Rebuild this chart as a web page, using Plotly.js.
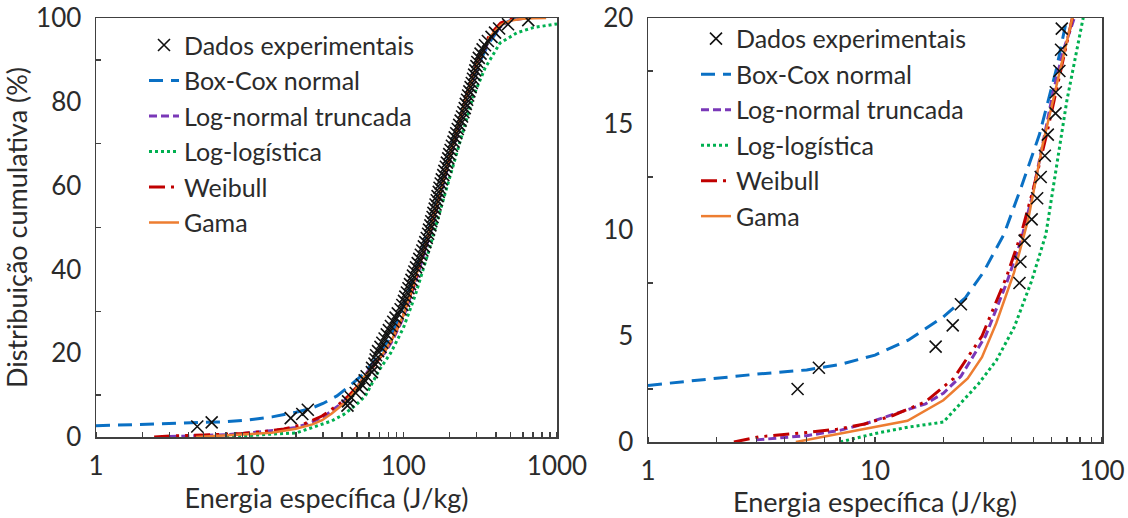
<!DOCTYPE html>
<html>
<head>
<meta charset="utf-8">
<script src="https://cdn.plot.ly/plotly-3.0.1.min.js"></script>
<style>html,body{margin:0;padding:0;background:#fff;}#chart{width:1128px;height:518px;}</style>
</head>
<body>
<div id="chart"></div>
<script>
// Experimental data (cumulative %, specific energy J/kg)
const dataY = [2.5,3.5,4.5,5.5,6.5,7.5,8.5,9.5,10.5,11.5,12.5,13.5,14.5,15.5,16.5,17.5,18.5,19.5,
  20.5,21.5,22.5,23.5,24.5,25.5,26.5,27.5,28.5,29.5,
  30.5,31.5,32.5,33.5,34.5,35.5,36.5,37.5,38.5,39.5,
  40.5,41.5,42.5,43.5,44.5,45.5,46.5,47.5,48.5,49.5,
  50.5,51.5,52.5,53.5,54.5,55.5,56.5,57.5,58.5,59.5,
  60.5,61.5,62.5,63.5,64.5,65.5,66.5,67.5,68.5,69.5,
  70.5,71.5,72.5,73.5,74.5,75.5,76.5,77.5,78.5,79.5,
  80.5,81.5,82.5,83.5,84.5,85.5,86.5,87.5,88.5,89.5,
  90.5,91.5,92.5,93.5,94.5,95.5,96.5,97.5,98.5,99.5];
const dataX = [4.56,5.66,18.5,22,23.9,43.3,43.7,45.6,49,51.8,53.7,56,57.7,62.4,62.6,64.9,66,66.5,
  68.5,71,73,75.5,78,80.5,83,86,89,92,
  96,98.5,101,103,105.5,108,110.5,113,115.5,118,
  121,124,127,130,133,136,139,142,145,147,
  150,152,155,157,160,162,165,167,170,172,
  175,178,182,185,189,192,196,199,203,207,
  212,216,221,226,231,236,241,246,251,255,
  260,264,269,274,279,284,289,294,299,303,
  310,318,328,340,355,375,395,420,480,650];

// Box-Cox normal
const bcX = [1,2,3,5,7,10,14,20,25,30,37,44,53,63,70,80,95,119,148,175,208,255,300,360,420,470,510,540];
const bcY = [2.67,3.0,3.2,3.4,3.65,4.1,4.8,5.9,6.8,8.0,9.8,12.0,14.5,17.6,20.0,23,29,39,50,60,70,80,88,94,97.5,99,99.7,100];
// Log-normal truncada
const lnX = [3,5,7,9,12,16.7,20,23.9,30.7,38,44,49,54.7,60.9,67.7,75.5,85,100,120,148,175,210,255,305,365,430,500,560,620];
const lnY = [0.1,0.3,0.55,0.85,1.3,1.8,2.3,3.1,5.0,7.5,9.5,11.5,14,16.5,18.5,20,23,28.5,37,48,58,69,80,89,95,98,99.4,99.8,100];
// Log-logística
const llX = [7.03,10,14,20,28.6,34.2,41,49,56.6,63,70,82.6,100,120,148,180,220,283,340,425,550,700,850,1000];
const llY = [0,0.4,0.7,0.94,2.75,3.84,5.4,7.6,9.8,12.9,16.1,20,26,34,45,56,67,81,88,94,96.5,97.7,98.2,98.6];
// Weibull
const wbX = [2.39,3.07,5,6.8,9,12,16.7,22.2,29.6,38,44,50,57,65,74,85,100,120,148,175,210,255,305,365,430,500,560];
const wbY = [0,0.24,0.45,0.6,0.85,1.25,1.9,3.0,5.0,7.8,9.8,12,14.5,17.2,20,23.5,29,37.5,49,59,70,81,90,96,98.8,99.8,100];
// Gama
const gmX = [4.48,13.9,20,25.6,29.6,34.2,41,47.3,54.7,65.4,74,85,100,120,148,175,210,255,305,365,430,500,600,700,850];
const gmY = [0,1.0,1.97,3.0,4.0,5.6,8.0,10.5,14,17.5,20,23.5,29,38,49,59,70,80.5,89.5,95.5,98.3,99.4,99.8,99.95,100];

const names = ['Dados experimentais','Box-Cox normal','Log-normal truncada','Log-logística','Weibull','Gama'];

const FONT = 'Lato, "Open Sans", sans-serif';
const TXT = '#2b2b2b';
const TICK_SIZE = 26, TITLE_SIZE = 27, LEG_SIZE = 25;

function series(suffix, legendName) {
  const xa = 'x' + suffix, ya = 'y' + suffix;
  return [
    {x: bcX, y: bcY, name: names[1], legendrank: 2, mode: 'lines', xaxis: xa, yaxis: ya, legend: legendName,
     line: {color: '#0A70C4', width: 3, dash: '14px,8px'}},
    {x: lnX, y: lnY, name: names[2], legendrank: 3, mode: 'lines', xaxis: xa, yaxis: ya, legend: legendName,
     line: {color: '#7A38B8', width: 3, dash: '8px,4px'}},
    {x: llX, y: llY, name: names[3], legendrank: 4, mode: 'lines', xaxis: xa, yaxis: ya, legend: legendName,
     line: {color: '#00B050', width: 3, dash: 'dot'}},
    {x: wbX, y: wbY, name: names[4], legendrank: 5, mode: 'lines', xaxis: xa, yaxis: ya, legend: legendName,
     line: {color: '#C00000', width: 3, dash: '16px,6px,3px,6px,3px,6px'}},
    {x: gmX, y: gmY, name: names[5], legendrank: 6, mode: 'lines', xaxis: xa, yaxis: ya, legend: legendName,
     line: {color: '#ED7D31', width: 2.5}},
    {x: dataX, y: dataY, name: names[0], legendrank: 1, mode: 'markers', xaxis: xa, yaxis: ya, legend: legendName,
     marker: {symbol: 'x-thin', size: 12, color: '#111', line: {width: 1.6, color: '#111'}}}
  ];
}

const traces = series('', 'legend').concat(series('2', 'legend2'));

const axBase = {
  showline: true, mirror: true, linecolor: '#404040', linewidth: 1.5,
  showgrid: false, zeroline: false, ticks: '',
  tickfont: {family: FONT, size: TICK_SIZE, color: TXT}
};
const minorTicks = {ticks: 'inside', ticklen: 5, tickcolor: '#404040', tickwidth: 1.5, showgrid: false};

const layout = {
  width: 1128, height: 518,
  margin: {l: 0, r: 0, t: 18, b: 76},
  paper_bgcolor: '#fff', plot_bgcolor: '#fff',
  showlegend: true,
  font: {family: FONT, color: TXT},
  xaxis: Object.assign({}, axBase, {
    type: 'log', range: [0, 3], domain: [96/1128, 557/1128], anchor: 'y',
    tickvals: [1, 10, 100, 1000], ticktext: ['1','10','100','1000'],
    minor: Object.assign({dtick: 'D1'}, minorTicks),
    ticklabelstandoff: 5,
    title: {text: 'Energia específica (J/kg)', font: {family: FONT, size: TITLE_SIZE, color: TXT}, standoff: 9}
  }),
  yaxis: Object.assign({}, axBase, {
    range: [0, 100], domain: [5/424, 1], anchor: 'x', dtick: 20,
    minor: Object.assign({dtick: 10}, minorTicks),
    ticklabelstandoff: 8,
    title: {text: 'Distribuição cumulativa (%)', font: {family: FONT, size: TITLE_SIZE, color: TXT}, standoff: 2}
  }),
  xaxis2: Object.assign({}, axBase, {
    type: 'log', range: [0, 2], domain: [648/1128, 1102/1128], anchor: 'y2',
    tickvals: [1, 10, 100], ticktext: ['1','10','100'],
    minor: Object.assign({dtick: 'D1'}, minorTicks),
    ticklabelstandoff: 5,
    title: {text: 'Energia específica (J/kg)', font: {family: FONT, size: TITLE_SIZE, color: TXT}, standoff: 5}
  }),
  yaxis2: Object.assign({}, axBase, {
    range: [0, 20], domain: [0, 1], anchor: 'x2', dtick: 5,
    minor: Object.assign({dtick: 2.5}, minorTicks),
    ticklabelstandoff: 8
  }),
  legend: {
    x: 144/1128, xanchor: 'left', y: 0.99, yanchor: 'top',
    bgcolor: 'rgba(0,0,0,0)', borderwidth: 0,
    font: {family: FONT, size: LEG_SIZE, color: TXT}, traceorder: 'normal'
  },
  legend2: {
    x: 696/1128, xanchor: 'left', y: 1.005, yanchor: 'top',
    bgcolor: 'rgba(0,0,0,0)', borderwidth: 0,
    font: {family: FONT, size: LEG_SIZE, color: TXT}, traceorder: 'normal'
  }
};

Plotly.newPlot('chart', traces, layout, {displayModeBar: false, staticPlot: true});
</script>
</body>
</html>
